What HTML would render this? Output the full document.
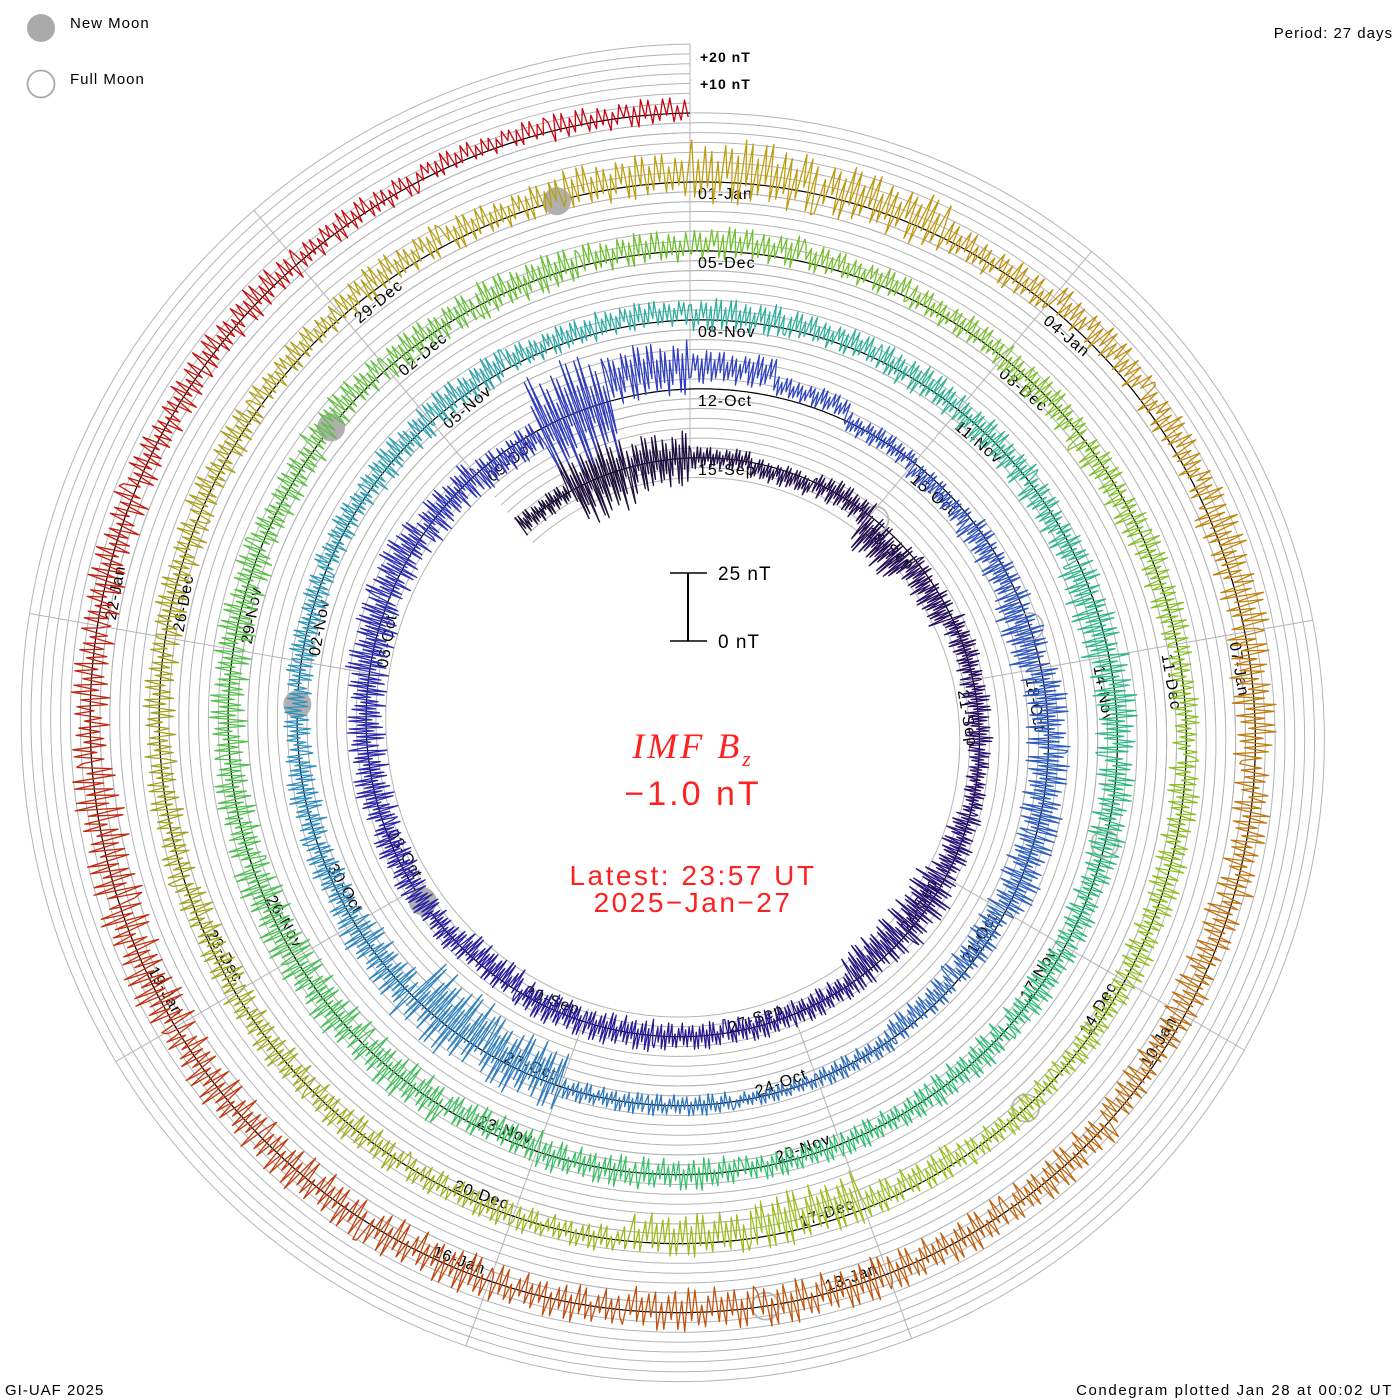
<!DOCTYPE html>
<html><head><meta charset="utf-8"><title>IMF Bz Condegram</title>
<style>
html,body{margin:0;padding:0;background:#fff;}
svg{display:block;font-family:"Liberation Sans",sans-serif;}
</style></head>
<body>
<svg id="chart" width="1400" height="1400" viewBox="0 0 1400 1400">
<rect x="0" y="0" width="1400" height="1400" fill="#fff"/>
<g id="grid"></g>
<g id="spokes"></g>
<g id="baseline"></g>
<g id="labels"></g>
<g id="moons"></g>
<g id="series"></g>

<g>
  <circle cx="41" cy="28" r="14" fill="#aaaaaa"/>
  <text x="70" y="28" font-size="15" letter-spacing="1" fill="#000">New Moon</text>
  <circle cx="41" cy="84" r="13.5" fill="none" stroke="#aaaaaa" stroke-width="1.8"/>
  <text x="70" y="84" font-size="15" letter-spacing="1" fill="#000">Full Moon</text>
</g>
<text x="1393" y="38" font-size="15" letter-spacing="1" text-anchor="end" fill="#000">Period: 27 days</text>
<text x="5" y="1395" font-size="15" letter-spacing="1" fill="#000">GI-UAF 2025</text>
<text x="1393" y="1395" font-size="15" letter-spacing="1.6" text-anchor="end" fill="#000">Condegram plotted Jan 28 at 00:02 UT</text>

<text x="700" y="62" font-size="14" font-weight="bold" letter-spacing="1" fill="#000">+20 nT</text>
<text x="700" y="89" font-size="14" font-weight="bold" letter-spacing="1" fill="#000">+10 nT</text>

<g>
  <line x1="688" y1="573" x2="688" y2="641" stroke="#000" stroke-width="2"/>
  <line x1="670" y1="573" x2="707" y2="573" stroke="#000" stroke-width="1.5"/>
  <line x1="670" y1="641" x2="707" y2="641" stroke="#000" stroke-width="1.5"/>
  <text x="718" y="580" font-size="19" letter-spacing="1" fill="#000">25 nT</text>
  <text x="718" y="648" font-size="19" letter-spacing="1" fill="#000">0 nT</text>
</g>

<text x="693" y="758" font-size="36" font-style="italic" letter-spacing="3" text-anchor="middle" fill="#ff2020" font-family="Liberation Serif, serif">IMF B<tspan font-size="22" dy="8">z</tspan></text>
<text x="693" y="805" font-size="34" letter-spacing="3" text-anchor="middle" fill="#ff2020">−1.0 nT</text>
<text x="693" y="885" font-size="28" letter-spacing="2.5" text-anchor="middle" fill="#ff2020">Latest: 23:57 UT</text>
<text x="693" y="912" font-size="28" letter-spacing="2.5" text-anchor="middle" fill="#ff2020">2025−Jan−27</text>
</svg>

<script>
// ---- data (days from 2025-Jan-01 00:00 UT; first day = 2024-Sep-12) ----
const startDay = -111;
const bzMean = [
 0,0,0,
 0,-2,0,-6,-3,0,
 0,0,-1,-2,-3,0,0,
 0,0,0,-2,0,0,0,
 0,1,2,0,-2,0,8,
 8,4,0,-2,-2,-3,0,
 0,0,-2,-2,0,0,0,
 0,-2,-3,0,0,0,0,
 0,1,1,2,2,3,2,
 2,1,0,-1,-2,0,0,
 0,0,0,0,0,0,0,
 -2,0,0,0,0,0,0,
 0,2,1,1,2,3,2,
 1,0,-1,0,0,0,0,
 0,0,-2,-5,-3,0,0,
 0,0,-1,0,0,0,1,
 2,3,2,3,4,3,1,
 4,3,2,0,0,-2,-2,
 0,0,0,-1,0,0,0,
 0,0,-1,0,0,0,1,
 1,2,1
];
const bzSpread = [
 4,15,10,
 4,4,5,8,6,5,
 5,4,6,9,8,5,5,
 5,6,6,6,5,6,7,
 7,8,8,7,6,20,10,
 6,4,4,4,6,8,8,
 8,8,6,5,4,3,4,
 4,12,14,8,6,6,5,
 5,5,6,6,5,5,6,
 5,6,6,6,8,8,7,
 6,6,6,5,5,6,6,
 6,8,8,8,7,7,7,
 6,6,6,7,6,6,5,
 5,6,6,6,5,6,6,
 5,5,6,10,8,5,5,
 6,6,6,6,6,6,6,
 5,6,6,8,12,10,6,
 6,6,8,8,7,7,6,
 7,7,8,8,7,8,8,
 8,9,9,7,7,6,6,
 5,4,5
];
const newMoonT = [-90.2, -60.47, -30.74, -1.06];
const fullMoonT = [-104.9, -75.52, -46.1, -16.62, 12.94];
const monthNames = ["Jan","Feb","Mar","Apr","May","Jun","Jul","Aug","Sep","Oct","Nov","Dec"];

// ---- geometry ----
const NS = "http://www.w3.org/2000/svg";
const CX = 690, CY = 730, R0 = 548, PERIOD = 27;
const TURN = 69, PXNT = 2.72;
function rad(t){ return R0 + TURN * t / PERIOD; }
function ang(t){ return t / PERIOD * 2 * Math.PI; }
function px(t, r){ return [CX + r*Math.sin(ang(t)), CY - r*Math.cos(ang(t))]; }
const tEnd = startDay + bzMean.length;

const colorStops = [
 [-111,[26,16,48]],[-103,[40,16,96]],[-92,[42,26,160]],[-81,[48,64,192]],
 [-69,[48,112,192]],[-61,[48,144,192]],[-54,[48,176,160]],[-42,[48,192,112]],
 [-27,[112,192,48]],[-15,[160,192,32]],[-7,[160,160,32]],[0,[192,160,16]],
 [6,[192,128,16]],[14,[192,80,16]],[21,[192,32,16]],[27,[204,0,16]]
];
function colorAt(t){
  for(let i=0;i<colorStops.length-1;i++){
    const a=colorStops[i], b=colorStops[i+1];
    if(t<=b[0]){ const f=Math.max(0,(t-a[0])/(b[0]-a[0]));
      const c=a[1].map((v,k)=>Math.round(v+(b[1][k]-v)*f));
      return "rgb("+c.join(",")+")"; }
  }
  return "rgb(204,0,16)";
}

function spiralPath(t0, t1, off){
  let d=""; const n=Math.ceil((t1-t0)*20);
  for(let i=0;i<=n;i++){ const t=t0+(t1-t0)*i/n; const p=px(t, rad(t)+off);
    d+=(i?"L":"M")+p[0].toFixed(1)+","+p[1].toFixed(1); }
  return d;
}

// grid spirals
const grid = document.getElementById("grid");
for(let n=-2;n<=7;n++){
  if(n===0) continue;
  const p=document.createElementNS(NS,"path");
  p.setAttribute("d", spiralPath(startDay, tEnd, n*TURN/7));
  p.setAttribute("fill","none"); p.setAttribute("stroke","#b4b4b4"); p.setAttribute("stroke-width","1");
  
  
  grid.appendChild(p);
}
// spokes every 40 degrees
const spokes = document.getElementById("spokes");
for(let k=0;k<9;k++){
  const frac=k/9;
  const tIn = -108 + frac*PERIOD;
  const tOut = k===0 ? 27 : frac*PERIOD;
  const a=px(tIn, rad(tIn)-14), b=px(tOut, rad(tOut)+TURN);
  const l=document.createElementNS(NS,"line");
  l.setAttribute("x1",a[0]); l.setAttribute("y1",a[1]); l.setAttribute("x2",b[0]); l.setAttribute("y2",b[1]);
  l.setAttribute("stroke","#b4b4b4"); l.setAttribute("stroke-width","1");
  
  
  spokes.appendChild(l);
}
// baseline
const bl=document.createElementNS(NS,"path");
bl.setAttribute("d", spiralPath(startDay+0.4, tEnd, 0));
bl.setAttribute("fill","none"); bl.setAttribute("stroke","#000"); bl.setAttribute("stroke-width","1.2");


document.getElementById("baseline").appendChild(bl);

// date labels every 3 days
const labels=document.getElementById("labels");
const jan1 = Date.UTC(2025,0,1);
for(let t=-108; t<=21; t+=3){
  const dt=new Date(jan1 + t*86400000);
  const txt=String(dt.getUTCDate()).padStart(2,"0")+"-"+monthNames[dt.getUTCMonth()];
  const deg=((t/PERIOD*360)%360+360)%360;
  const p=px(t, rad(t));
  const tx=document.createElementNS(NS,"text");
  tx.setAttribute("font-size","16"); tx.setAttribute("fill","#000"); tx.setAttribute("letter-spacing","1");
  if(deg>95 && deg<265){
    tx.setAttribute("transform","translate("+p[0].toFixed(1)+","+p[1].toFixed(1)+") rotate("+(deg-180).toFixed(1)+")");
    tx.setAttribute("x","-8"); tx.setAttribute("y","-4"); tx.setAttribute("text-anchor","end");
  } else {
    tx.setAttribute("transform","translate("+p[0].toFixed(1)+","+p[1].toFixed(1)+") rotate("+deg.toFixed(1)+")");
    tx.setAttribute("x","8"); tx.setAttribute("y","17");
  }
  tx.textContent=txt;
  
  
  labels.appendChild(tx);
}

// moons
const moons=document.getElementById("moons");
newMoonT.forEach(t=>{
  const p=px(t, rad(t)); const c=document.createElementNS(NS,"circle");
  c.setAttribute("cx",p[0]); c.setAttribute("cy",p[1]); c.setAttribute("r","14"); c.setAttribute("fill","#b0b0b0");
  
  
  moons.appendChild(c);
});
fullMoonT.forEach(t=>{
  const p=px(t, rad(t)); const c=document.createElementNS(NS,"circle");
  c.setAttribute("cx",p[0]); c.setAttribute("cy",p[1]); c.setAttribute("r","13.5"); c.setAttribute("fill","none");
  c.setAttribute("stroke","#b8b8b8"); c.setAttribute("stroke-width","1.8");
  
  
  moons.appendChild(c);
});

// series: per day, zigzag within mean ± spread
const series=document.getElementById("series");
const pattern=[-1,0.9,-0.5,0.7,-0.85,0.35,-0.6,1,-0.3,0.6,-0.9,0.45,-0.7,0.8,-0.4,0.95,-1,0.5,-0.65,0.75,-0.2,0.9,-0.8,0.3];
const SUB=40;
let lastPt=null;
for(let i=0;i<bzMean.length;i++){
  const t0=startDay+i;
  let d="";
  if(lastPt) d="M"+lastPt[0].toFixed(1)+","+lastPt[1].toFixed(1);
  for(let j=0;j<SUB;j++){
    const t=t0+(j+0.5)/SUB;
    const v=bzMean[i]+bzSpread[i]*pattern[(j*7+i)%pattern.length];
    const p=px(t, rad(t)+v*PXNT);
    d+=(d?"L":"M")+p[0].toFixed(1)+","+p[1].toFixed(1);
    lastPt=p;
  }
  const path=document.createElementNS(NS,"path");
  path.setAttribute("d",d); path.setAttribute("fill","none");
  path.setAttribute("stroke",colorAt(t0+0.5)); path.setAttribute("stroke-width","1.3");
  path.setAttribute("stroke-linejoin","round");
  
  
  series.appendChild(path);
}
</script>
</body></html>
